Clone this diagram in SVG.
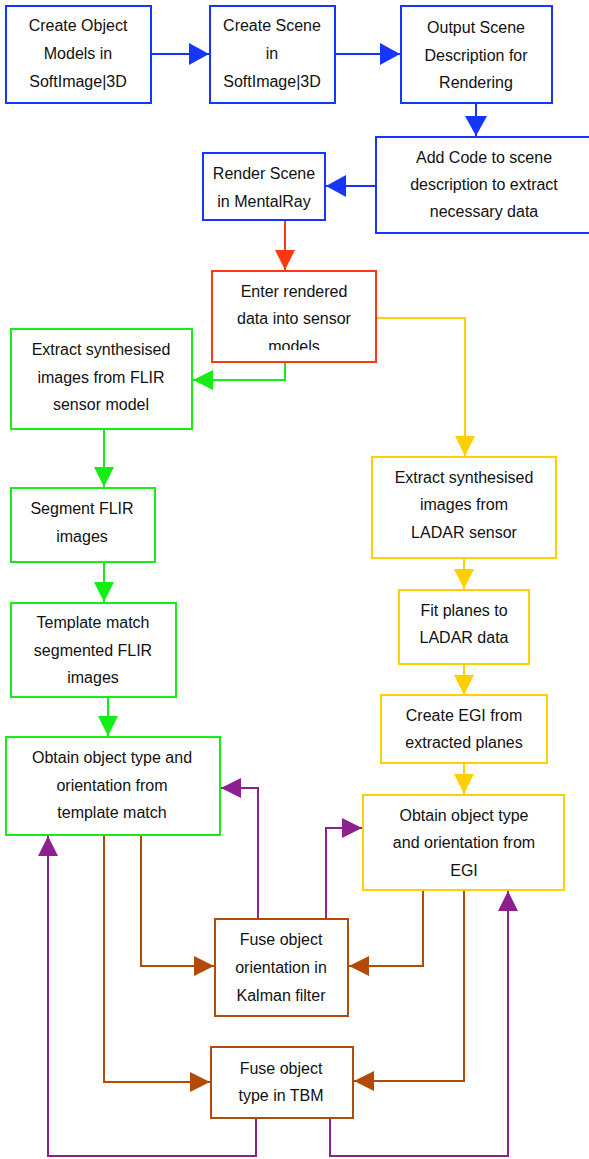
<svg xmlns="http://www.w3.org/2000/svg" width="589" height="1159" viewBox="0 0 589 1159">
<style>
text{font-family:"Liberation Sans",Arial,sans-serif;font-size:16px;fill:#111;text-anchor:middle}
rect{fill:#fff;stroke-width:2}
.b{stroke:#1436ff}.r{stroke:#ff3814}.g{stroke:#14ee14}.y{stroke:#ffd000}.br{stroke:#b04c08}.p{stroke:#8e1f8e}
path{fill:none;stroke-width:2}
</style>
<defs>
<marker id="mb" markerUnits="userSpaceOnUse" markerWidth="22" markerHeight="24" refX="20" refY="11" orient="auto"><path d="M0,0L20,11L0,22Z" style="fill:#1436ff;stroke:none"/></marker>
<marker id="mr" markerUnits="userSpaceOnUse" markerWidth="22" markerHeight="24" refX="20" refY="10" orient="auto"><path d="M0,0L20,10L0,20Z" style="fill:#ff3814;stroke:none"/></marker>
<marker id="mg" markerUnits="userSpaceOnUse" markerWidth="22" markerHeight="24" refX="20" refY="10" orient="auto"><path d="M0,0L20,10L0,20Z" style="fill:#14ee14;stroke:none"/></marker>
<marker id="my" markerUnits="userSpaceOnUse" markerWidth="22" markerHeight="24" refX="20" refY="10" orient="auto"><path d="M0,0L20,10L0,20Z" style="fill:#ffd000;stroke:none"/></marker>
<marker id="mbr" markerUnits="userSpaceOnUse" markerWidth="22" markerHeight="24" refX="20" refY="10" orient="auto"><path d="M0,0L20,10L0,20Z" style="fill:#b04c08;stroke:none"/></marker>
<marker id="mp" markerUnits="userSpaceOnUse" markerWidth="22" markerHeight="24" refX="20" refY="10" orient="auto"><path d="M0,0L20,10L0,20Z" style="fill:#8e1f8e;stroke:none"/></marker>
<clipPath id="c6"><rect x="212" y="271" width="164" height="79"/></clipPath>
</defs>
<g id="connectors">
<path class="b" d="M151,54H209" marker-end="url(#mb)"/>
<path class="b" d="M335,54H400" marker-end="url(#mb)"/>
<path class="b" d="M476,103V136" marker-end="url(#mb)"/>
<path class="b" d="M376,186H326" marker-end="url(#mb)"/>
<path class="r" d="M285,220V270" marker-end="url(#mr)"/>
<path class="g" d="M285,362V380H193" marker-end="url(#mg)"/>
<path class="y" d="M376,318H465V456" marker-end="url(#my)"/>
<path class="g" d="M104,430V487" marker-end="url(#mg)"/>
<path class="g" d="M104,562V602" marker-end="url(#mg)"/>
<path class="g" d="M108,697V736" marker-end="url(#mg)"/>
<path class="y" d="M464,558V589" marker-end="url(#my)"/>
<path class="y" d="M464,664V695" marker-end="url(#my)"/>
<path class="y" d="M464,763V794" marker-end="url(#my)"/>
<path class="br" d="M141,835V966H214" marker-end="url(#mbr)"/>
<path class="br" d="M104,835V1082H210" marker-end="url(#mbr)"/>
<path class="br" d="M423,890V966H349" marker-end="url(#mbr)"/>
<path class="br" d="M464,890V1081H354" marker-end="url(#mbr)"/>
<path class="p" d="M258,919V788H221" marker-end="url(#mp)"/>
<path class="p" d="M326,919V828H362" marker-end="url(#mp)"/>
<path class="p" d="M256,1118V1156H48V836" marker-end="url(#mp)"/>
<path class="p" d="M330,1118V1156H508V891" marker-end="url(#mp)"/>
</g>
<g id="n1"><rect class="b" x="6" y="6" width="145" height="97"/><text x="78" y="31">Create Object</text><text x="78" y="59">Models in</text><text x="78" y="87">SoftImage|3D</text></g>
<g id="n2"><rect class="b" x="210" y="6" width="125" height="97"/><text x="272" y="31">Create Scene</text><text x="272" y="59">in</text><text x="272" y="87">SoftImage|3D</text></g>
<g id="n3"><rect class="b" x="401" y="6" width="151" height="97"/><text x="476" y="33">Output Scene</text><text x="476" y="61">Description for</text><text x="476" y="88">Rendering</text></g>
<g id="n4"><rect class="b" x="376" y="137" width="214" height="96"/><text x="484" y="163">Add Code to scene</text><text x="484" y="190">description to extract</text><text x="484" y="217">necessary data</text></g>
<g id="n5"><rect class="b" x="203" y="153" width="122" height="67"/><text x="264" y="179">Render Scene</text><text x="264" y="207">in MentalRay</text></g>
<g id="n6"><rect class="r" x="212" y="271" width="164" height="91"/><text x="294" y="297">Enter rendered</text><text x="294" y="324">data into sensor</text><text x="294" y="352" clip-path="url(#c6)">models</text></g>
<g id="n7"><rect class="g" x="11" y="329" width="181" height="100"/><text x="101" y="355">Extract synthesised</text><text x="101" y="383">images from FLIR</text><text x="101" y="410">sensor model</text></g>
<g id="n8"><rect class="y" x="372" y="457" width="184" height="101"/><text x="464" y="483">Extract synthesised</text><text x="464" y="510">images from</text><text x="464" y="538">LADAR sensor</text></g>
<g id="n9"><rect class="g" x="11" y="488" width="144" height="74"/><text x="82" y="514">Segment FLIR</text><text x="82" y="542">images</text></g>
<g id="n10"><rect class="g" x="11" y="603" width="165" height="94"/><text x="93" y="628">Template match</text><text x="93" y="656">segmented FLIR</text><text x="93" y="683">images</text></g>
<g id="n11"><rect class="g" x="6" y="737" width="214" height="98"/><text x="112" y="763">Obtain object type and</text><text x="112" y="791">orientation from</text><text x="112" y="818">template match</text></g>
<g id="n12"><rect class="y" x="399" y="590" width="130" height="74"/><text x="464" y="616">Fit planes to</text><text x="464" y="643">LADAR data</text></g>
<g id="n13"><rect class="y" x="381" y="695" width="166" height="68"/><text x="464" y="721">Create EGI from</text><text x="464" y="748">extracted planes</text></g>
<g id="n14"><rect class="y" x="363" y="795" width="201" height="95"/><text x="464" y="821">Obtain object type</text><text x="464" y="848">and orientation from</text><text x="464" y="876">EGI</text></g>
<g id="n15"><rect class="br" x="215" y="919" width="133" height="97"/><text x="281" y="945">Fuse object</text><text x="281" y="973">orientation in</text><text x="281" y="1001">Kalman filter</text></g>
<g id="n16"><rect class="br" x="211" y="1047" width="142" height="71"/><text x="281" y="1074">Fuse object</text><text x="281" y="1101">type in TBM</text></g>
</svg>
